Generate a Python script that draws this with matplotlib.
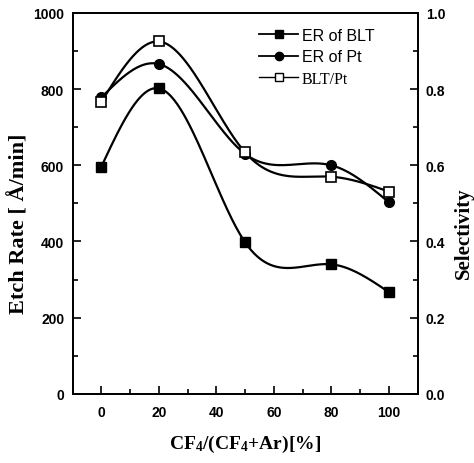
import numpy as np
import matplotlib
matplotlib.use("Agg")
import matplotlib.pyplot as plt
from matplotlib.lines import Line2D
from matplotlib.ticker import MultipleLocator, FormatStrFormatter

matplotlib.rcParams["mathtext.default"] = "regular"

# data
cf4 = [0, 20, 50, 80, 100]
er_blt = [596, 802, 398, 340, 267]
er_pt = [778, 866, 630, 600, 503]
sel_blt_pt = [0.766, 0.925, 0.634, 0.570, 0.531]
x_ticks = [0, 20, 40, 60, 80, 100]
left_ticks = [0, 200, 400, 600, 800, 1000]
right_ticks = [0.0, 0.2, 0.4, 0.6, 0.8, 1.0]


def natural_spline(x, y, n=300):
    x = np.asarray(x, float)
    y = np.asarray(y, float)
    m = len(x)
    h = np.diff(x)
    A = np.zeros((m, m))
    b = np.zeros(m)
    A[0, 0] = 1
    A[-1, -1] = 1
    for i in range(1, m - 1):
        A[i, i - 1] = h[i - 1]
        A[i, i] = 2 * (h[i - 1] + h[i])
        A[i, i + 1] = h[i]
        b[i] = 6 * ((y[i + 1] - y[i]) / h[i] - (y[i] - y[i - 1]) / h[i - 1])
    M = np.linalg.solve(A, b)
    xs = np.linspace(x[0], x[-1], n)
    idx = np.clip(np.searchsorted(x, xs) - 1, 0, m - 2)
    x0, x1 = x[idx], x[idx + 1]
    hh = x1 - x0
    ys = (M[idx] * (x1 - xs) ** 3 / (6 * hh) + M[idx + 1] * (xs - x0) ** 3 / (6 * hh)
          + (y[idx] / hh - M[idx] * hh / 6) * (x1 - xs)
          + (y[idx + 1] / hh - M[idx + 1] * hh / 6) * (xs - x0))
    return xs, ys


fig = plt.figure(figsize=(4.74, 4.64), dpi=100)
ax = fig.add_axes([0.153, 0.149, 0.728, 0.821])
ax2 = ax.twinx()

lw = 1.6
xs, ys = natural_spline(cf4, er_blt)
ax.plot(xs, ys, color="black", lw=lw)
ax.plot(cf4, er_blt, ls="none", marker="s", ms=7, color="black")
xs, ys = natural_spline(cf4, er_pt)
ax.plot(xs, ys, color="black", lw=lw)
ax.plot(cf4, er_pt, ls="none", marker="o", ms=7, color="black")
xs, ys = natural_spline(cf4, sel_blt_pt)
ax2.plot(xs, ys, color="black", lw=lw)
ax2.plot(cf4, sel_blt_pt, ls="none", marker="s", ms=7.5, mfc="white", mec="black", mew=1.2)

ax.set_xlim(-10, 110)
ax.set_ylim(0, 1000)
ax2.set_ylim(0, 1.0)

ax.set_xticks(x_ticks)
ax.set_yticks(left_ticks)
ax2.set_yticks(right_ticks)
ax.xaxis.set_minor_locator(MultipleLocator(10))
ax.yaxis.set_minor_locator(MultipleLocator(100))
ax2.yaxis.set_minor_locator(MultipleLocator(0.1))
ax2.yaxis.set_major_formatter(FormatStrFormatter("%.1f"))

for a in (ax, ax2):
    a.tick_params(which="both", direction="in", width=1.2, top=False)
    a.tick_params(which="major", length=6)
    a.tick_params(which="minor", length=3.5)
    for lab in a.get_xticklabels() + a.get_yticklabels():
        lab.set_fontfamily("Liberation Sans")
        lab.set_fontweight("bold")
        lab.set_fontsize(10)
ax.tick_params(axis="x", pad=8)
ax.tick_params(axis="y", pad=6, right=False)
ax2.tick_params(axis="y", pad=6)
for a in (ax, ax2):
    for s in a.spines.values():
        s.set_linewidth(1.3)

labfont = dict(family="Liberation Serif", weight="bold", size=14)
ax.set_xlabel("CF$_4$/(CF$_4$+Ar)[%]", fontdict=labfont, labelpad=10)
ax.set_ylabel("Etch Rate [ Å/min]", fontdict=dict(labfont, size=16))
ax.yaxis.set_label_coords(-0.125, 0.45)
ax2.set_ylabel("Selectivity", fontdict=dict(labfont, size=15))
ax2.yaxis.set_label_coords(1.105, 0.425)

handles = [
    Line2D([], [], color="black", lw=1.3, marker="s", ms=6),
    Line2D([], [], color="black", lw=1.3, marker="o", ms=6),
    Line2D([], [], color="black", lw=1.0, marker="s", ms=6, mfc="white", mec="black"),
]
leg = ax2.legend(handles, ["ER of BLT", "ER of Pt", "BLT/Pt"], loc="upper left",
                 bbox_to_anchor=(0.5, 0.998), frameon=False, handlelength=2.4,
                 handletextpad=0.25, labelspacing=0.4, prop=dict(family="Liberation Sans", size=11.5))
leg.get_texts()[2].set_fontfamily("Liberation Serif")

fig.savefig("out.png", dpi=100)
